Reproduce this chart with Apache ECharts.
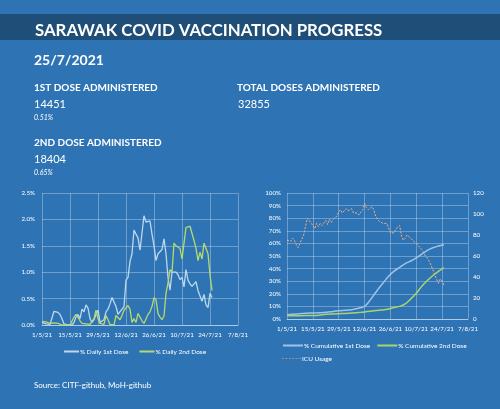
<!DOCTYPE html>
<html>
<head>
<meta charset="utf-8">
<script src="https://cdn.jsdelivr.net/npm/echarts@6/dist/echarts.min.js"></script>
<style>
  html, body { margin: 0; padding: 0; background: #2E74B5; }
  #main { width: 500px; height: 409px; }
</style>
</head>
<body>
<div id="main"></div>
<script>
// tick labels for the date axis (every 14 days from 1/5/21)
var dateTicks = ['1/5/21', '15/5/21', '29/5/21', '12/6/21', '26/6/21', '10/7/21', '24/7/21', '7/8/21'];

// daily % of population, one value per day from 1/5/21 to 25/7/21
var daily1st = [0.05, 0.04, 0.02, 0.01, 0.01, 0.02, 0.26, 0.25, 0.24, 0.2, 0.12, 0.02, 0, 0, 0, 0,
  0.05, 0.15, 0.2, 0.12, 0.3, 0.25, 0.38, 0.32, 0.12, 0.05, 0.1, 0.2, 0.28, 0.05, 0.02, 0.1,
  0.25, 0.3, 0.4, 0.52, 0.53, 0.35, 0.2, 0.22, 0.3, 0.35, 0.85, 0.9, 1.2, 1.35, 1.8, 1.72,
  1.65, 1.42, 1.42, 2.07, 1.95, 1.98, 1.97, 1.72, 1.5, 1.22, 1.35, 1.36, 1.43, 1.63, 1.35, 0.9,
  0.66, 1.0, 1.03, 1.0, 0.95, 0.86, 0.9, 0.72, 1.05, 0.85, 0.78, 0.73, 0.75, 0.82, 0.65, 0.55,
  0.45, 0.58, 0.38, 0.33, 0.6, 0.52];
var daily2nd = [0.07, 0.07, 0.06, 0.05, 0.03, 0.03, 0.04, 0.04, 0.03, 0.01, 0, 0, 0, 0, 0, 0.02,
  0.15, 0.2, 0.15, 0.08, 0.03, 0.03, 0.02, 0.03, 0.01, 0.02, 0.12, 0.28, 0.12, 0.03, 0, 0.01,
  0.18, 0.1, 0.01, 0, 0, 0.18, 0.15, 0.1, 0.18, 0.28, 0.25, 0.37, 0.3, 0.05, 0.12, 0.05,
  0.22, 0.15, 0.08, 0.03, 0, 0.2, 0.25, 0.35, 0.52, 0.48, 0.22, 0.15, 0.1, 0.17, 0.6, 0.8,
  1.05, 1.0, 1.55, 1.5, 1.48, 1.45, 1.25, 1.27, 1.85, 1.85, 1.87, 1.9, 1.6, 1.45, 1.22, 1.38,
  1.25, 1.55, 1.57, 1.35, 0.95, 0.65];

// cumulative % (read at these day offsets from 1/5/21)
var cumDays = [0, 5, 10, 15, 20, 25, 30, 35, 40, 42, 44, 46, 48, 50, 52, 55, 58, 61, 64, 67, 70, 73, 76, 79, 82, 85];
var cum1st = [3.4, 4.0, 4.6, 4.8, 5.2, 6.0, 6.8, 7.3, 9.0, 10, 13, 17, 21, 25, 28.5, 34, 38, 41, 44, 46, 48.5, 51.5, 54.5, 56.5, 58, 59];
var cum2nd = [2.6, 2.6, 2.7, 2.7, 3.6, 4.0, 4.3, 4.8, 5.3, 5.6, 6, 6.4, 6.7, 7, 7.2, 8, 9.2, 10, 12, 16, 20.5, 26, 30.5, 34.5, 37.8, 40.7];

// ICU beds in use, daily
var icuUsage = [75, 75, 74, 77, 75, 71, 68, 72, 76, 80, 88, 96, 94, 93, 89, 86, 91, 88, 91, 89,
  88, 94, 90, 95, 92, 95, 96, 98, 102, 104, 101, 103, 105, 103, 104, 105, 101, 102, 101, 99,
  102, 104, 110, 106, 104, 105, 107, 104, 98, 95, 93, 94, 91, 92, 91, 87, 82, 81, 82, 86,
  87, 89, 79, 75, 77, 80, 81, 77, 75, 74, 72, 70, 69, 66, 63, 60, 58, 55, 51, 47,
  42, 38, 34, 38, 36, 32];

function byDay(arr) {
  return arr.map(function (v, i) { return [i, v]; });
}
function pairs(days, vals) {
  return days.map(function (d, i) { return [d, vals[i]]; });
}

var FONT = 'Lato';
var gridLine = { lineStyle: { color: 'rgba(255,255,255,0.3)', width: 1 } };
var labelStyle = { color: '#fff', fontSize: 6.2, fontFamily: FONT };
var dashIcon = 'path://M0,0h3v1h-3z M5,0h3v1h-3z M10,0h3v1h-3z M15,0h3v1h-3z M20,0h3v1h-3z M25,0h3v1h-3z';

function dateAxis(gridIndex) {
  return {
    type: 'value', gridIndex: gridIndex, min: 0, max: 98, interval: 14,
    axisLine: { show: true, lineStyle: { color: 'rgba(255,255,255,0.45)' } },
    axisTick: { show: false },
    splitLine: { show: true, lineStyle: gridLine.lineStyle },
    axisLabel: Object.assign({ margin: 7, hideOverlap: false, formatter: function (v) { return dateTicks[v / 14]; } }, labelStyle)
  };
}

var chart = echarts.init(document.getElementById('main'));
chart.setOption({
  backgroundColor: '#2E74B5',
  textStyle: { fontFamily: FONT },
  animation: false,
  graphic: [
    { type: 'rect', shape: { x: 0, y: 14, width: 500, height: 26 }, style: { fill: '#1F4E79' } }
  ],
  title: [
    { text: 'SARAWAK COVID VACCINATION PROGRESS', left: 30, top: 17, textStyle: { color: '#fff', fontSize: 16.8, fontWeight: 'bold' } },
    { text: '25/7/2021', left: 29, top: 48, textStyle: { color: '#fff', fontSize: 14, fontWeight: 'bold' } },
    { text: '1ST DOSE ADMINISTERED', left: 29, top: 78, textStyle: { color: '#fff', fontSize: 10, fontWeight: 'bold' } },
    { text: '14451', left: 29, top: 94, textStyle: { color: '#fff', fontSize: 11, fontWeight: 'normal' } },
    { text: '0.51%', left: 29, top: 109, textStyle: { color: '#fff', fontSize: 7, fontStyle: 'italic', fontWeight: 'normal' } },
    { text: 'TOTAL DOSES ADMINISTERED', left: 232, top: 78, textStyle: { color: '#fff', fontSize: 10, fontWeight: 'bold' } },
    { text: '32855', left: 233, top: 94, textStyle: { color: '#fff', fontSize: 11, fontWeight: 'normal' } },
    { text: '2ND DOSE ADMINISTERED', left: 29, top: 133, textStyle: { color: '#fff', fontSize: 10, fontWeight: 'bold' } },
    { text: '18404', left: 29, top: 149, textStyle: { color: '#fff', fontSize: 11, fontWeight: 'normal' } },
    { text: '0.65%', left: 29, top: 164, textStyle: { color: '#fff', fontSize: 7, fontStyle: 'italic', fontWeight: 'normal' } },
    { text: 'Source: CITF-github, MoH-github', left: 29, top: 376, textStyle: { color: '#fff', fontSize: 8, fontWeight: 'normal' } }
  ],
  legend: [
    {
      data: ['% Daily 1st Dose', '% Daily 2nd Dose'], left: 58, top: 343,
      itemWidth: 15, itemHeight: 1.6, itemGap: 10,
      textStyle: { color: '#fff', fontSize: 6.5, padding: [0, 0, 0, -4] }
    },
    {
      data: ['% Cumulative 1st Dose', '% Cumulative 2nd Dose'], left: 277, top: 337,
      itemWidth: 20, itemHeight: 1.6, itemGap: 6,
      textStyle: { color: '#fff', fontSize: 6.5, padding: [0, 0, 0, -4] }
    },
    {
      data: [{ name: 'ICU Usage', icon: dashIcon }], left: 277, top: 350,
      itemWidth: 19, itemHeight: 1.2,
      textStyle: { color: '#fff', fontSize: 6.5, padding: [0, 0, 0, -4] }
    }
  ],
  grid: [
    { left: 42, top: 193, width: 196, height: 132 },
    { left: 287, top: 193, width: 181, height: 126 }
  ],
  xAxis: [dateAxis(0), dateAxis(1)],
  yAxis: [
    {
      type: 'value', gridIndex: 0, min: 0, max: 2.5, interval: 0.5,
      axisLine: { show: false }, axisTick: { show: false },
      splitLine: gridLine,
      axisLabel: Object.assign({ margin: 7, formatter: function (v) { return v.toFixed(1) + '%'; } }, labelStyle)
    },
    {
      type: 'value', gridIndex: 1, min: 0, max: 100, interval: 10,
      axisLine: { show: false }, axisTick: { show: false },
      splitLine: gridLine,
      axisLabel: Object.assign({ margin: 6, formatter: '{value}%' }, labelStyle)
    },
    {
      type: 'value', gridIndex: 1, position: 'right', min: 0, max: 120, interval: 20,
      axisLine: { show: false }, axisTick: { show: false },
      splitLine: { show: false },
      axisLabel: Object.assign({ margin: 5 }, labelStyle)
    }
  ],
  series: [
    {
      name: '% Daily 1st Dose', type: 'line', xAxisIndex: 0, yAxisIndex: 0,
      data: byDay(daily1st), symbol: 'none', legendIcon: 'rect',
      lineStyle: { color: '#BDD7EE', width: 1.3 }, itemStyle: { color: '#BDD7EE' }
    },
    {
      name: '% Daily 2nd Dose', type: 'line', xAxisIndex: 0, yAxisIndex: 0,
      data: byDay(daily2nd), symbol: 'none', legendIcon: 'rect',
      lineStyle: { color: '#B5D96E', width: 1.3 }, itemStyle: { color: '#B5D96E' }
    },
    {
      name: '% Cumulative 1st Dose', type: 'line', xAxisIndex: 1, yAxisIndex: 1,
      data: pairs(cumDays, cum1st), symbol: 'none', smooth: 0.3, legendIcon: 'rect',
      lineStyle: { color: '#9DC3E6', width: 1.5 }, itemStyle: { color: '#9DC3E6' }
    },
    {
      name: '% Cumulative 2nd Dose', type: 'line', xAxisIndex: 1, yAxisIndex: 1,
      data: pairs(cumDays, cum2nd), symbol: 'none', smooth: 0.3, legendIcon: 'rect',
      lineStyle: { color: '#A9D46A', width: 1.5 }, itemStyle: { color: '#A9D46A' }
    },
    {
      name: 'ICU Usage', type: 'line', xAxisIndex: 1, yAxisIndex: 2,
      data: byDay(icuUsage), symbol: 'none',
      lineStyle: { color: '#F4B183', width: 1, type: [2, 1.5] }, itemStyle: { color: '#F4B183' }
    }
  ]
});
</script>
</body>
</html>
